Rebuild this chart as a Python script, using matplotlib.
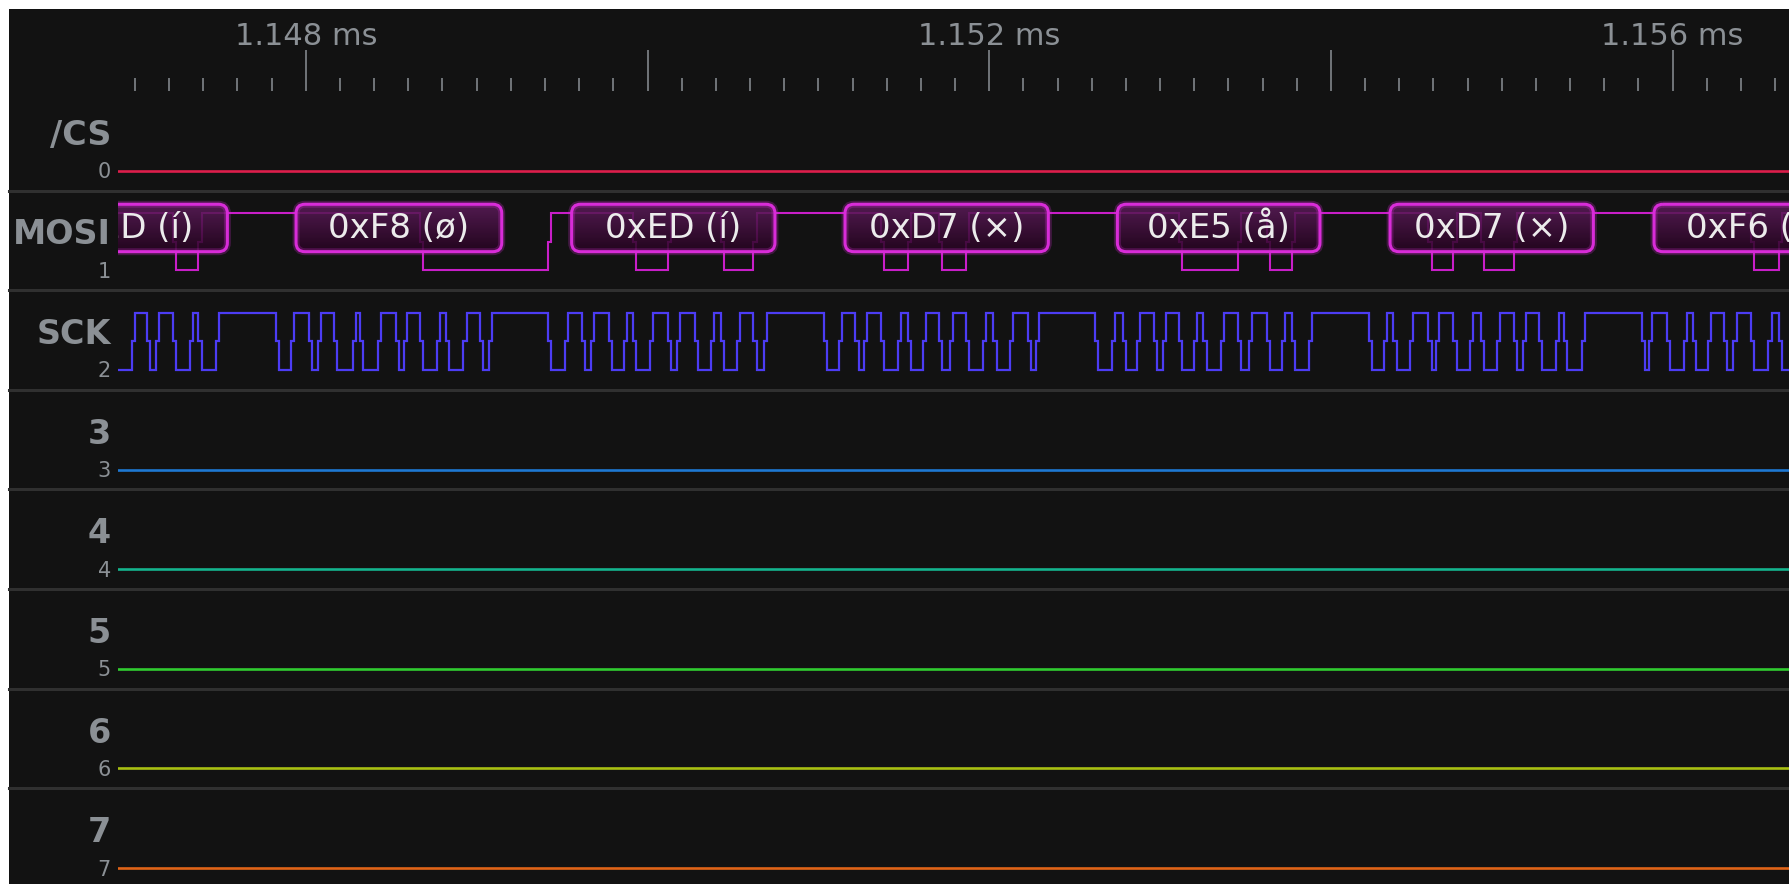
import matplotlib
matplotlib.use("Agg")
import numpy as np
from matplotlib import pyplot as plt
from matplotlib.patches import FancyBboxPatch, Rectangle
from matplotlib.colors import LinearSegmentedColormap
from matplotlib.ticker import MultipleLocator, FuncFormatter

# channel rows, top to bottom
names = ['/CS', 'MOSI', 'SCK', '3', '4', '5', '6', '7']
numbers = ['0', '1', '2', '3', '4', '5', '6', '7']
colors = ['#dc1e4b', '#c81ec8', '#4c3cf4', '#1e78d2', '#14b48e', '#30cc30', '#a8bf12', '#e06418']

# visible window (microseconds)
t_start = 1146.898
t_end = 1156.681

# SCK: level at t_start, then it toggles at each edge (us)
sck_start = 0
sck_edges = [
    1146.989, 1147.078, 1147.132, 1147.234, 1147.332, 1147.381, 1147.483,
    1147.834, 1147.922, 1148.029, 1148.078, 1148.176, 1148.283, 1148.325, 1148.430,
    1148.537, 1148.585, 1148.678, 1148.776, 1148.829, 1148.932, 1149.030, 1149.083,
    1149.425, 1149.527, 1149.627, 1149.676, 1149.781, 1149.871, 1149.922, 1150.025,
    1150.127, 1150.180, 1150.288, 1150.383, 1150.439, 1150.531, 1150.629, 1150.688,
    1151.041, 1151.130, 1151.226, 1151.278, 1151.375, 1151.473, 1151.532, 1151.620,
    1151.717, 1151.780, 1151.873, 1151.975, 1152.034, 1152.132, 1152.234, 1152.283,
    1152.629, 1152.726, 1152.790, 1152.873, 1152.975, 1153.024, 1153.121, 1153.209,
    1153.263, 1153.366, 1153.463, 1153.531, 1153.634, 1153.721, 1153.780, 1153.878,
    1154.229, 1154.317, 1154.375, 1154.473, 1154.580, 1154.624, 1154.726, 1154.824,
    1154.887, 1154.980, 1155.082, 1155.131, 1155.229, 1155.326, 1155.375, 1155.477,
    1155.829, 1155.872, 1155.975, 1156.073, 1156.126, 1156.214, 1156.311, 1156.365,
    1156.468, 1156.570, 1156.629,
]

# MOSI
mosi_start = 1
mosi_edges = [
    1147.234, 1147.381, 1148.678, 1149.425, 1149.922, 1150.127, 1150.439, 1150.629,
    1151.375, 1151.532, 1151.717, 1151.873, 1153.121, 1153.463, 1153.634, 1153.780,
    1154.580, 1154.726, 1154.887, 1155.082, 1156.468, 1156.629,
]

# decoded SPI bytes on MOSI
byte_start = [1146.341, 1147.943, 1149.556, 1151.156, 1152.750, 1154.346, 1155.891]
byte_end = [1147.541, 1149.147, 1150.746, 1152.346, 1153.936, 1155.536, 1157.091]
byte_text = ['0xED (í)', '0xF8 (ø)', '0xED (í)', '0xD7 (×)', '0xE5 (å)', '0xD7 (×)', '0xF6 (ö)']

# channels that stay put for the whole window: row -> level
flat_channels = {0: 0, 3: 0, 4: 0, 5: 0, 6: 0, 7: 0}

W, H = 1789, 884
ROW_PX = 99.65
TOP_PX = 90.85
LEFT_PX = 117.5
BG = '#121212'
SEP = '#303030'
TXT = '#8b9095'
MAG = '#d82cd8'

LOW, HIGH = 0.80, 0.23     # level positions inside a row
HALF = 0.009               # half width of the mid-level step drawn at each edge


def trace(ax, row, level0, edges, color, lw):
    lo, hi = row + LOW, row + HIGH
    lvl = level0
    xs = [t_start]
    ys = [hi if lvl else lo]
    for t in edges:
        a = hi if lvl else lo
        lvl = 1 - lvl
        b = hi if lvl else lo
        m = (a + b) / 2
        xs += [t - HALF, t - HALF, t + HALF, t + HALF]
        ys += [a, m, m, b]
    xs.append(t_end)
    ys.append(hi if lvl else lo)
    ax.plot(xs, ys, color=color, lw=lw, zorder=2, solid_joinstyle='miter')


fig = plt.figure(figsize=(W / 100, H / 100), dpi=100)
fig.patch.set_facecolor('white')
fig.add_artist(Rectangle((9 / W, 0), 1 - 9 / W, (H - 9) / H, transform=fig.transFigure,
                         facecolor=BG, edgecolor='none', zorder=0))

ax = fig.add_axes([LEFT_PX / W, 0, 1 - LEFT_PX / W, (H - TOP_PX) / H])
ax.set_facecolor('none')
ax.axis('off')

# separators and labels
for r in range(1, len(names)):
    ax.plot([-0.065, 1], [r, r], transform=ax.get_yaxis_transform(), color=SEP,
            lw=2.2, clip_on=False, zorder=1)
for i, name in enumerate(names):
    ax.text(-0.0039, i + 0.54, name, transform=ax.get_yaxis_transform(), ha='right',
            va='baseline', fontsize=24, fontweight='bold', color=TXT, clip_on=False)
    ax.text(-0.0039, i + 0.875, numbers[i], transform=ax.get_yaxis_transform(), ha='right',
            va='baseline', fontsize=15, color=TXT, clip_on=False)

# signals
for row, lvl in flat_channels.items():
    trace(ax, row, lvl, [], colors[row], 1.9)
trace(ax, 1, mosi_start, mosi_edges, colors[1], 1.5)
trace(ax, 2, sck_start, sck_edges, colors[2], 1.6)

# decoded byte boxes
R = 9 * 2.0 / 341.7
ASPECT = (1 / ROW_PX) / (2.0 / 341.7)
box_cmap = LinearSegmentedColormap.from_list('box', ['#5e1c5c', '#25031f'])
grad = np.linspace(0, 1, 64).reshape(-1, 1)
y0, y1 = 1 + 0.138, 1 + 0.614
for x0, x1, label in zip(byte_start, byte_end, byte_text):
    glow = FancyBboxPatch((x0, y0), x1 - x0, y1 - y0,
                          boxstyle=f'round,pad=0,rounding_size={R}', mutation_aspect=ASPECT,
                          facecolor='none', edgecolor=MAG, lw=5, alpha=0.25, zorder=4)
    ax.add_patch(glow)
    p = FancyBboxPatch((x0, y0), x1 - x0, y1 - y0,
                       boxstyle=f'round,pad=0,rounding_size={R}', mutation_aspect=ASPECT,
                       facecolor='none', edgecolor=MAG, lw=2.2, zorder=4)
    ax.add_patch(p)
    im = ax.imshow(grad, extent=(x0, x1, y1, y0), aspect='auto', cmap=box_cmap,
                   alpha=0.85, zorder=3, interpolation='bilinear')
    im.set_clip_path(p)
    ax.text((x0 + x1) / 2, 1 + 0.479, label, ha='center', va='baseline', fontsize=24.5,
            color='#ececec', clip_on=True, zorder=5)

ax.set_xlim(t_start, t_end)
ax.set_ylim((H - TOP_PX) / ROW_PX, 0)

# time ruler
rax = fig.add_axes([LEFT_PX / W, (H - 91) / H, 1 - LEFT_PX / W, 41 / H])
rax.set_facecolor('none')
rax.set_xlim(t_start, t_end)
for s in rax.spines.values():
    s.set_visible(False)
rax.set_yticks([])
rax.xaxis.set_major_locator(MultipleLocator(2))
rax.xaxis.set_minor_locator(MultipleLocator(0.2))
rax.xaxis.set_major_formatter(
    FuncFormatter(lambda v, p: f'{v / 1000:.3f} ms' if round(v / 2) % 2 == 0 else ''))
rax.tick_params(axis='x', which='both', direction='in', bottom=True, top=False,
                labelbottom=False, labeltop=True, colors=TXT, width=1.1)
rax.tick_params(axis='x', which='major', length=29.5, labelsize=22, pad=-0.5)
rax.tick_params(axis='x', which='minor', length=9.6)

fig.savefig('out.png', dpi=100, facecolor='white')
